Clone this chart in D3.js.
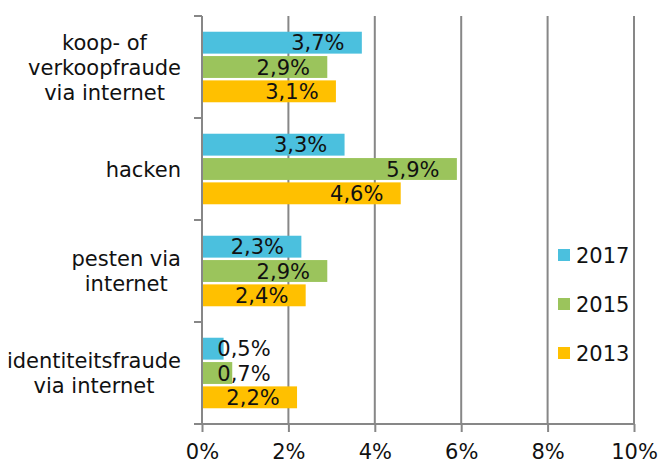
<!DOCTYPE html>
<html>
<head>
<meta charset="utf-8">
<script src="https://cdn.jsdelivr.net/npm/d3@7"></script>
<style>
  html, body { margin: 0; padding: 0; background: #fff; }
  svg { display: block; font-family: "DejaVu Sans", Verdana, sans-serif; }
</style>
</head>
<body>
<svg id="chart" width="661" height="463"></svg>
<script>
// Categories top to bottom, each split over multiple lines
const categories = ["koop- of verkoopfraude via internet", "hacken", "pesten via internet", "identiteitsfraude via internet"];
const categoryLines = [
  ["koop- of", "verkoopfraude", "via internet"],
  ["hacken"],
  ["pesten via", "internet"],
  ["identiteitsfraude", "via internet"]
];
const years = ["2017", "2015", "2013"];
const values2017 = [3.7, 3.3, 2.3, 0.5];
const values2015 = [2.9, 5.9, 2.9, 0.7];
const values2013 = [3.1, 4.6, 2.4, 2.2];
const xTicks = [0, 2, 4, 6, 8, 10];
const tickLabels = ["0%", "2%", "4%", "6%", "8%", "10%"];
const colors = { "2017": "#4BC0DE", "2015": "#9BC45C", "2013": "#FFC000" };

const seriesByYear = { "2017": values2017, "2015": values2015, "2013": values2013 };

const svg = d3.select("#chart");
const plotLeft = 202, plotRight = 634, plotTop = 16, plotBottom = 424;
const fontSize = 21;
const gridColor = "#878787";

const x = d3.scaleLinear().domain([0, 10]).range([plotLeft, plotRight]);
const y = d3.scaleBand().domain(categories).range([plotTop, plotBottom]).padding(0);
const yInner = d3.scaleBand().domain(years)
  .range([15, y.bandwidth() - 15]).paddingInner(0.1).paddingOuter(0.03);

// vertical gridlines
svg.append("g").selectAll("line")
  .data(xTicks.filter(d => d > 0))
  .join("line")
  .attr("x1", d => x(d)).attr("x2", d => x(d))
  .attr("y1", plotTop).attr("y2", plotBottom)
  .attr("stroke", gridColor).attr("stroke-width", 2);

// bars
const rows = [];
categories.forEach((c, i) => {
  years.forEach(yr => rows.push({ cat: c, year: yr, value: seriesByYear[yr][i] }));
});

svg.append("g").selectAll("rect")
  .data(rows)
  .join("rect")
  .attr("x", x(0))
  .attr("y", d => y(d.cat) + yInner(d.year))
  .attr("width", d => x(d.value) - x(0))
  .attr("height", yInner.bandwidth())
  .attr("fill", d => colors[d.year]);

// value labels
const fmt = v => d3.format(".1f")(v).replace(".", ",") + "%";
svg.append("g").selectAll("text")
  .data(rows)
  .join("text")
  .attr("x", d => Math.max(x(d.value) - 44, x(0) + 42))
  .attr("y", d => y(d.cat) + yInner(d.year) + yInner.bandwidth() / 2)
  .attr("dy", "0.36em")
  .attr("text-anchor", "middle")
  .attr("font-size", fontSize)
  .attr("fill", "#111")
  .text(d => fmt(d.value));

// y axis with ticks between categories
const yAxis = svg.append("g");
yAxis.append("line")
  .attr("x1", plotLeft).attr("x2", plotLeft).attr("y1", plotTop).attr("y2", plotBottom)
  .attr("stroke", gridColor).attr("stroke-width", 2);
yAxis.selectAll("line.tick")
  .data(categories.map(c => y(c)).concat([plotBottom]))
  .join("line")
  .attr("class", "tick")
  .attr("x1", plotLeft - 8).attr("x2", plotLeft)
  .attr("y1", d => d).attr("y2", d => d)
  .attr("stroke", gridColor).attr("stroke-width", 2);

// category labels: lines centred within a block whose right edge sits next to the axis
const lineH = 25;
const labelRight = 181;
categoryLines.forEach((lines, i) => {
  const cy = y(categories[i]) + y.bandwidth() / 2;
  const t = svg.append("text")
    .attr("text-anchor", "middle")
    .attr("font-size", fontSize)
    .attr("fill", "#111");
  const spans = lines.map((ln, j) => t.append("tspan")
    .attr("y", cy + (j - (lines.length - 1) / 2) * lineH)
    .attr("dy", "0.36em")
    .text(ln));
  const blockW = d3.max(spans, s => s.node().getComputedTextLength());
  spans.forEach(s => s.attr("x", labelRight - blockW / 2));
});

// x axis
const xAxis = svg.append("g").attr("transform", `translate(0,${plotBottom})`)
  .call(d3.axisBottom(x).tickValues(xTicks).tickFormat((d, i) => tickLabels[i]).tickSize(8).tickPadding(12));
xAxis.select(".domain").attr("stroke", gridColor).attr("stroke-width", 2)
  .attr("d", `M${plotLeft - 8},0H${plotRight}`);
xAxis.selectAll(".tick line").attr("stroke", gridColor).attr("stroke-width", 2);
xAxis.selectAll(".tick text").attr("font-size", fontSize).attr("fill", "#111")
  .attr("font-family", "\"DejaVu Sans\", Verdana, sans-serif");

// legend
const legend = svg.append("g");
years.forEach((yr, i) => {
  const ly = 255 + i * 49;
  legend.append("rect")
    .attr("x", 558).attr("y", ly - 6).attr("width", 12).attr("height", 12)
    .attr("fill", colors[yr]);
  legend.append("text")
    .attr("x", 576).attr("y", ly).attr("dy", "0.36em")
    .attr("font-size", fontSize).attr("fill", "#111")
    .text(yr);
});
</script>
</body>
</html>
